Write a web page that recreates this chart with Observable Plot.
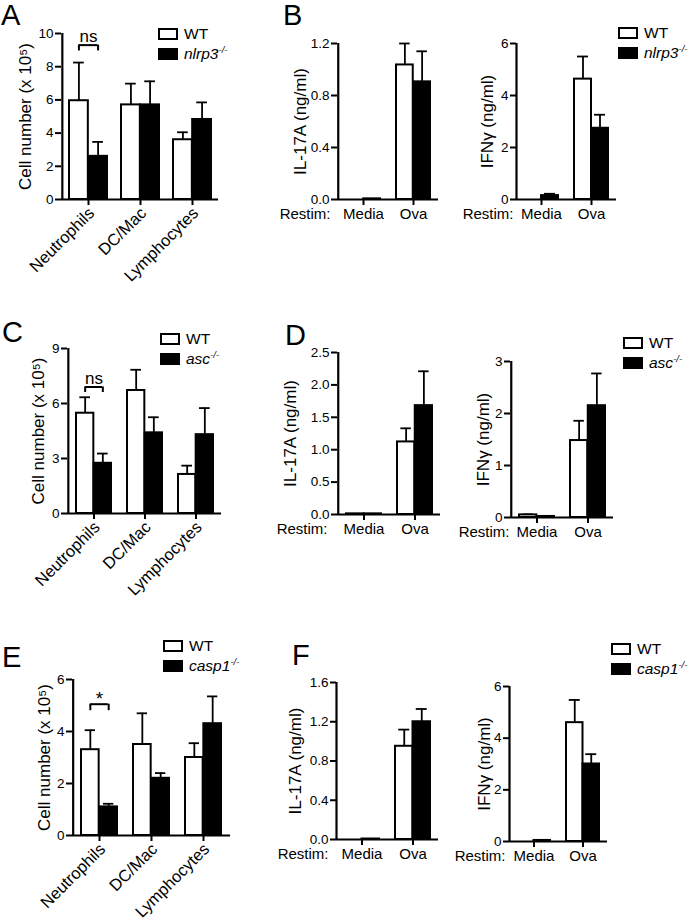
<!DOCTYPE html>
<html>
<head>
<meta charset="utf-8">
<script src="https://cdn.jsdelivr.net/npm/d3@7"></script>
<script src="https://cdn.jsdelivr.net/npm/@observablehq/plot@0.6"></script>
<style>
  body { margin: 0; background: #fff; }
  #fig { position: relative; width: 690px; height: 920px; font-family: "Liberation Sans", Arial, Helvetica, sans-serif; color: #000; }
  #fig svg { overflow: visible; }
  .panel { position: absolute; }
  .letter { position: absolute; font-size: 29px; line-height: 1; }
  .legend { position: absolute; font-size: 15.5px; }
  .legend .row { display: flex; align-items: center; height: 20px; white-space: nowrap; }
  .legend .box { width: 20px; height: 12px; box-sizing: border-box; border: 2px solid #000; margin-right: 6px; }
  .legend .box.ko { background: #000; }
  .legend sup { font-size: 9.5px; font-style: italic; }
</style>
</head>
<body>
<div id="fig"></div>
<script>
// ---------- categories ----------
const cellTypes = ["Neutrophils", "DC/Mac", "Lymphocytes"];
const restims = ["Media", "Ova"];
const wtName = "WT";
const koGenes = ["nlrp3", "asc", "casp1"];
const panelLetters = ["A", "B", "C", "D", "E", "F"];
const cellLabel = "Cell number (x 10\u2075)";
const il17Label = "IL-17A (ng/ml)";
const ifngLabel = "IFN\u03b3 (ng/ml)";
const restimLabel = "Restim:";

// ---------- A: cell numbers, WT vs nlrp3-/- ----------
const A_wt = [5.95, 5.7, 3.6];
const A_wtErr = [2.3, 1.28, 0.45];
const A_ko = [2.6, 5.7, 4.82];
const A_koErr = [0.87, 1.42, 1.03];
const A_ticks = [0, 2, 4, 6, 8, 10];
const A_sig = {cat: "Neutrophils", y: 9.3, leg: 0.35, label: "ns"};

// ---------- B: cytokines, WT vs nlrp3-/- ----------
const B_il_wt = [0, 1.035];
const B_il_wtErr = [0, 0.165];
const B_il_ko = [0.005, 0.905];
const B_il_koErr = [0, 0.235];
const B_il_ticks = [0, 0.4, 0.8, 1.2];
const B_ifn_wt = [0, 4.63];
const B_ifn_wtErr = [0, 0.87];
const B_ifn_ko = [0.15, 2.74];
const B_ifn_koErr = [0.07, 0.52];
const B_ifn_ticks = [0, 2, 4, 6];

// ---------- C: cell numbers, WT vs asc-/- ----------
const C_wt = [5.47, 6.71, 2.13];
const C_wtErr = [0.87, 1.13, 0.48];
const C_ko = [2.74, 4.4, 4.3];
const C_koErr = [0.53, 0.85, 1.45];
const C_ticks = [0, 3, 6, 9];
const C_sig = {cat: "Neutrophils", y: 6.9, leg: 0.3, label: "ns"};

// ---------- D: cytokines, WT vs asc-/- ----------
const D_il_wt = [0.01, 1.12];
const D_il_wtErr = [0, 0.21];
const D_il_ko = [0.01, 1.68];
const D_il_koErr = [0, 0.53];
const D_il_ticks = [0, 0.5, 1.0, 1.5, 2.0, 2.5];
const D_ifn_wt = [0.05, 1.48];
const D_ifn_wtErr = [0.01, 0.38];
const D_ifn_ko = [0.02, 2.15];
const D_ifn_koErr = [0, 0.62];
const D_ifn_ticks = [0, 1, 2, 3];

// ---------- E: cell numbers, WT vs casp1-/- ----------
const E_wt = [3.3, 3.5, 3.0];
const E_wtErr = [0.75, 1.2, 0.55];
const E_ko = [1.1, 2.2, 4.3];
const E_koErr = [0.12, 0.2, 1.05];
const E_ticks = [0, 2, 4, 6];
const E_sig = {cat: "Neutrophils", y: 5.05, leg: 0.25, label: "*"};

// ---------- F: cytokines, WT vs casp1-/- ----------
const F_il_wt = [0, 0.95];
const F_il_wtErr = [0, 0.17];
const F_il_ko = [0.005, 1.2];
const F_il_koErr = [0, 0.13];
const F_il_ticks = [0, 0.4, 0.8, 1.2, 1.6];
const F_ifn_wt = [0, 4.6];
const F_ifn_wtErr = [0, 0.88];
const F_ifn_ko = [0.04, 3.0];
const F_ifn_koErr = [0, 0.38];
const F_ifn_ticks = [0, 2, 4, 6];

// ---------- drawing ----------
const FONT = '"Liberation Sans", Arial, Helvetica, sans-serif';
const fig = document.getElementById("fig");

function chart(cfg) {
  const {cats, wt, wtErr, ko, koErr, ticks, fmt, ylabel, box, m, inset, labelOff,
         rotateX, restimOff, sig} = cfg;
  const [left, top, w, h] = box;
  const bw = (w - m[3] - m[1]) / cats.length;
  const half = bw / 2;
  const cOff = (inset + half) / 2;           // centre of WT bar from band start
  const dxW = cOff - half, dxK = half - cOff;
  const cap = 5.5;
  const rowsW = cats.map((c, i) => ({cat: c, v: wt[i], e: wtErr[i]}));
  const rowsK = cats.map((c, i) => ({cat: c, v: ko[i], e: koErr[i]}));
  const eW = rowsW.filter(d => d.e > 0), eK = rowsK.filter(d => d.e > 0);
  const marks = [
    Plot.ruleX(eW, {x: "cat", y1: "v", y2: d => d.v + d.e, dx: dxW, strokeWidth: 1.8}),
    Plot.tickY(eW, {x: "cat", y: d => d.v + d.e, insetLeft: cOff - cap, insetRight: bw - cOff - cap, strokeWidth: 1.8}),
    Plot.ruleX(eK, {x: "cat", y1: "v", y2: d => d.v + d.e, dx: dxK, strokeWidth: 1.8}),
    Plot.tickY(eK, {x: "cat", y: d => d.v + d.e, insetLeft: bw - cOff - cap, insetRight: cOff - cap, strokeWidth: 1.8}),
    Plot.barY(rowsW, {x: "cat", y: "v", fill: "white", stroke: "black", strokeWidth: 2, insetLeft: inset, insetRight: half}),
    Plot.barY(rowsK, {x: "cat", y: "v", fill: "black", stroke: "black", strokeWidth: 2, insetLeft: half, insetRight: inset}),
    Plot.ruleY([ticks[0]], {strokeWidth: 2.2}),
    Plot.ruleX([cats[0]], {y1: ticks[0], y2: ticks[ticks.length - 1], dx: -half, strokeWidth: 2.2}),
    Plot.axisY({ticks, tickFormat: fmt, tickSize: 6, tickPadding: 2, fontSize: 13.5, strokeWidth: 2, label: null}),
    Plot.text([ylabel], {frameAnchor: "left", rotate: -90, dx: -labelOff, fontSize: 17, textAnchor: "middle", lineAnchor: "middle"})
  ];
  if (rotateX) {
    marks.push(
      Plot.axisX({tickSize: 6, tickFormat: () => "", strokeWidth: 2, label: null}),
      Plot.text(cats, {x: d => d, frameAnchor: "bottom", rotate: -45, textAnchor: "end", lineAnchor: "middle", dx: 3, dy: 11, fontSize: 16.5})
    );
  } else {
    marks.push(Plot.axisX({tickSize: 6, tickPadding: 3, fontSize: 15, strokeWidth: 2, label: null}));
  }
  if (restimOff != null) {
    marks.push(Plot.text([restimLabel], {frameAnchor: "bottom-left", textAnchor: "end", lineAnchor: "top", dx: restimOff, dy: 9, fontSize: 15}));
  }
  if (sig) {
    marks.push(
      Plot.tickY([sig], {x: "cat", y: "y", insetLeft: cOff, insetRight: cOff, strokeWidth: 2}),
      Plot.ruleX([sig], {x: "cat", y1: "y", y2: d => d.y - d.leg, dx: dxW, strokeWidth: 2}),
      Plot.ruleX([sig], {x: "cat", y1: "y", y2: d => d.y - d.leg, dx: dxK, strokeWidth: 2}),
      Plot.text([sig], {x: "cat", y: "y", text: "label", dy: sig.label === "*" ? 1 : -3, lineAnchor: "bottom", fontSize: sig.label === "*" ? 19 : 17})
    );
  }
  const svg = Plot.plot({
    width: w, height: h,
    marginTop: m[0], marginRight: m[1], marginBottom: m[2], marginLeft: m[3],
    x: {domain: cats, padding: 0},
    y: {domain: [ticks[0], ticks[ticks.length - 1]]},
    style: {fontFamily: FONT, background: "none", overflow: "visible", color: "black"},
    marks
  });
  const holder = document.createElement("div");
  holder.className = "panel";
  holder.style.left = left + "px";
  holder.style.top = top + "px";
  holder.appendChild(svg);
  fig.appendChild(holder);
}

function letter(t, x, capTop) {
  const d = document.createElement("div");
  d.className = "letter";
  d.textContent = t;
  d.style.left = x + "px";
  d.style.top = (capTop - 4) + "px";
  fig.appendChild(d);
}

function legend(ko, x, boxTop) {
  const d = document.createElement("div");
  d.className = "legend";
  d.style.left = x + "px";
  d.style.top = (boxTop - 4) + "px";
  d.innerHTML =
    `<div class="row"><span class="box"></span><span>${wtName}</span></div>` +
    `<div class="row"><span class="box ko"></span><span><i>${ko}</i><sup>-/-</sup></span></div>`;
  fig.appendChild(d);
}

const f1 = d3.format(".1f");
const f0 = d3.format("d");

// Row 1
chart({cats: cellTypes, wt: A_wt, wtErr: A_wtErr, ko: A_ko, koErr: A_koErr, ticks: A_ticks, fmt: f0,
  ylabel: cellLabel, box: [0, 0, 240, 290], m: [33, 22, 91, 61], inset: 7, labelOff: 36, rotateX: true, sig: A_sig});
chart({cats: restims, wt: B_il_wt, wtErr: B_il_wtErr, ko: B_il_ko, koErr: B_il_koErr, ticks: B_il_ticks, fmt: f1,
  ylabel: il17Label, box: [260, 0, 200, 290], m: [43, 22, 91, 77], inset: 8, labelOff: 37, rotateX: false, restimOff: -7});
chart({cats: restims, wt: B_ifn_wt, wtErr: B_ifn_wtErr, ko: B_ifn_ko, koErr: B_ifn_koErr, ticks: B_ifn_ticks, fmt: f0,
  ylabel: ifngLabel, box: [450, 0, 240, 290], m: [43, 74, 91, 66], inset: 8, labelOff: 29, rotateX: false, restimOff: -3});

// Row 2
chart({cats: cellTypes, wt: C_wt, wtErr: C_wtErr, ko: C_ko, koErr: C_koErr, ticks: C_ticks, fmt: f0,
  ylabel: cellLabel, box: [0, 290, 240, 310], m: [58, 19, 87, 67], inset: 8, labelOff: 29, rotateX: true, sig: C_sig});
chart({cats: restims, wt: D_il_wt, wtErr: D_il_wtErr, ko: D_il_ko, koErr: D_il_koErr, ticks: D_il_ticks, fmt: f1,
  ylabel: il17Label, box: [260, 290, 200, 310], m: [62, 20, 86, 77], inset: 8, labelOff: 47, rotateX: false, restimOff: -10});
chart({cats: restims, wt: D_ifn_wt, wtErr: D_ifn_wtErr, ko: D_ifn_ko, koErr: D_ifn_koErr, ticks: D_ifn_ticks, fmt: f0,
  ylabel: ifngLabel, box: [450, 290, 240, 310], m: [71, 77, 83, 60], inset: 8, labelOff: 27, rotateX: false, restimOff: -1});

// Row 3
chart({cats: cellTypes, wt: E_wt, wtErr: E_wtErr, ko: E_ko, koErr: E_koErr, ticks: E_ticks, fmt: f0,
  ylabel: cellLabel, box: [0, 600, 240, 320], m: [79, 10, 85, 72], inset: 8, labelOff: 28, rotateX: true, sig: E_sig});
chart({cats: restims, wt: F_il_wt, wtErr: F_il_wtErr, ko: F_il_ko, koErr: F_il_koErr, ticks: F_il_ticks, fmt: f1,
  ylabel: il17Label, box: [260, 600, 200, 320], m: [82, 22, 81, 76], inset: 8, labelOff: 41, rotateX: false, restimOff: -8});
chart({cats: restims, wt: F_ifn_wt, wtErr: F_ifn_wtErr, ko: F_ifn_ko, koErr: F_ifn_koErr, ticks: F_ifn_ticks, fmt: f0,
  ylabel: ifngLabel, box: [450, 600, 240, 320], m: [86, 83, 79, 59], inset: 8, labelOff: 25, rotateX: false, restimOff: -4});

// Panel letters
letter(panelLetters[0], 1, 5);
letter(panelLetters[1], 283, 5);
letter(panelLetters[2], 2, 322);
letter(panelLetters[3], 285, 325);
letter(panelLetters[4], 2, 647);
letter(panelLetters[5], 292, 645);

// Legends
legend(koGenes[0], 158, 28);
legend(koGenes[0], 618, 27);
legend(koGenes[1], 160, 333);
legend(koGenes[1], 623, 337);
legend(koGenes[2], 163, 640);
legend(koGenes[2], 611, 643);
</script>
</body>
</html>
